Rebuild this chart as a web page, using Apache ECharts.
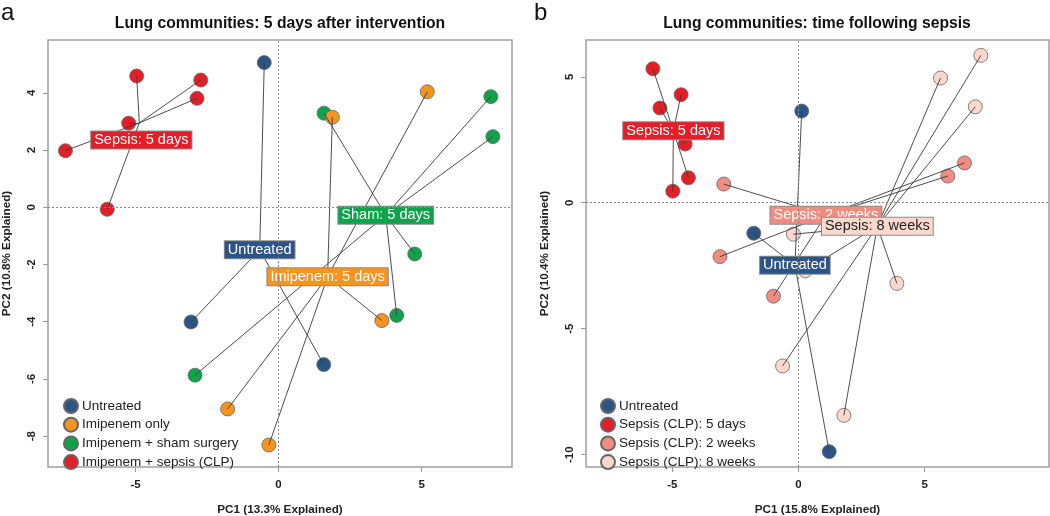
<!DOCTYPE html>
<html>
<head>
<meta charset="utf-8">
<script src="https://cdn.jsdelivr.net/npm/echarts@6/dist/echarts.min.js"></script>
<style>
  html, body { margin: 0; padding: 0; background: #fff; }
  #chart { width: 1050px; height: 516px; }
</style>
</head>
<body>
<div id="chart"></div>
<script>
// panel a: 5 days after intervention (PC1, PC2)
const aUntreated = [[-0.50, 5.06], [-3.06, -4.01], [1.58, -5.50]]
const aImipenem = [[1.88, 3.15], [5.20, 4.04], [3.61, -3.96], [-1.78, -7.05], [-0.34, -8.31]]
const aSham = [[1.59, 3.29], [7.42, 3.87], [7.49, 2.47], [4.76, -1.63], [4.13, -3.78], [-2.92, -5.87]]
const aSepsis = [[-4.96, 4.59], [-2.72, 4.45], [-2.85, 3.81], [-5.24, 2.94], [-7.45, 1.98], [-5.99, -0.07]]
const aLegend = ['Untreated', 'Imipenem only', 'Imipenem + sham surgery', 'Imipenem + sepsis (CLP)']
const aTags = ['Untreated', 'Imipenem: 5 days', 'Sham: 5 days', 'Sepsis: 5 days']

// panel b: time following sepsis
const bUntreated = [[0.13, 3.64], [-1.77, -1.21], [1.22, -9.88]]
const bSepsis5d = [[-5.77, 5.32], [-4.65, 4.29], [-5.49, 3.76], [-4.49, 2.33], [-4.36, 0.99], [-4.98, 0.46]]
const bSepsis2w = [[-2.96, 0.74], [6.58, 1.58], [5.92, 1.06], [-3.11, -2.14], [-0.99, -3.71]]
const bSepsis8w = [[7.23, 5.85], [5.63, 4.95], [7.01, 3.81], [-0.20, -1.25], [3.90, -3.20], [0.27, -2.70], [-0.63, -6.48], [1.80, -8.44]]
const bLegend = ['Untreated', 'Sepsis (CLP): 5 days', 'Sepsis (CLP): 2 weeks', 'Sepsis (CLP): 8 weeks']
const bTags = ['Untreated', 'Sepsis: 5 days', 'Sepsis: 2 weeks', 'Sepsis: 8 weeks']

// tick labels
const xTicks = [-5, 0, 5]
const aYTicks = [-8, -6, -4, -2, 0, 2, 4]
const bYTicks = [-10, -5, 0, 5]

const FONT = '"Liberation Sans", Arial, sans-serif'
const chart = echarts.init(document.getElementById('chart'))

function mean (pts) {
  let sx = 0
  let sy = 0
  pts.forEach(p => { sx += p[0]; sy += p[1] })
  return [sx / pts.length, sy / pts.length]
}

// one panel: points, spider lines to the group centroid, boxed group tags
function panel (idx, groups, names, tags, colors, tagText, tagOffset) {
  const out = []
  // dotted zero lines
  out.push({
    type: 'scatter', xAxisIndex: idx, yAxisIndex: idx, data: [], z: 1,
    markLine: {
      silent: true, symbol: ['none', 'none'], label: { show: false },
      lineStyle: { type: [2, 2], color: '#8a8a8a', width: 1 },
      data: [{ xAxis: 0 }, { yAxis: 0 }]
    }
  })
  groups.forEach((pts, i) => {
    out.push({
      name: names[i], type: 'scatter', xAxisIndex: idx, yAxisIndex: idx,
      data: pts, symbolSize: 14, z: 2,
      itemStyle: { color: colors[i], borderColor: '#666', borderWidth: 0.8, opacity: 1 }
    })
  })
  const segs = []
  groups.forEach(pts => {
    const c = mean(pts)
    pts.forEach(p => segs.push({ coords: [c, p] }))
  })
  out.push({
    type: 'lines', coordinateSystem: 'cartesian2d', xAxisIndex: idx, yAxisIndex: idx,
    data: segs, z: 3, silent: true,
    lineStyle: { color: '#3a3a3a', width: 0.9, opacity: 1 }
  })
  out.push({
    type: 'scatter', xAxisIndex: idx, yAxisIndex: idx, z: 4, silent: true,
    symbolSize: 1, itemStyle: { color: 'transparent', opacity: 1 },
    data: groups.map((pts, i) => ({
      value: mean(pts),
      name: tags[i],
      label: {
        backgroundColor: colors[i],
        color: tagText[i],
        offset: tagOffset[i]
      }
    })),
    label: {
      show: true, position: 'inside', formatter: '{b}',
      fontFamily: FONT, fontSize: 14.5, lineHeight: 16,
      borderColor: '#8c8c8c', borderWidth: 1, padding: [1, 3, 0, 3]
    }
  })
  return out
}

const aColors = ['#2C5487', '#F7941D', '#0FA34B', '#E41E26']
const bColors = ['#2C5487', '#E41E26', '#F08C80', '#FAD8CD']

function xAxis (idx, min, max, name) {
  return {
    gridIndex: idx, type: 'value', min: min, max: max,
    name: name, nameLocation: 'middle', nameGap: 37,
    nameTextStyle: { fontFamily: FONT, fontSize: 11.7, fontWeight: 'bold', color: '#222' },
    axisLine: { show: false, onZero: false },
    axisTick: { show: true, length: 5, customValues: xTicks, lineStyle: { color: '#999' } },
    axisLabel: { customValues: xTicks, margin: 12, fontFamily: FONT, fontSize: 11.5, fontWeight: 'bold', color: '#222' },
    splitLine: { show: false }
  }
}

function yAxis (idx, min, max, name, ticks) {
  return {
    gridIndex: idx, type: 'value', min: min, max: max,
    name: name, nameLocation: 'middle', nameGap: 35,
    nameTextStyle: { fontFamily: FONT, fontSize: 11.7, fontWeight: 'bold', color: '#222' },
    axisLine: { show: false, onZero: false },
    axisTick: { show: true, length: 5, customValues: ticks, lineStyle: { color: '#999' } },
    axisLabel: { customValues: ticks, rotate: 90, margin: 10, fontFamily: FONT, fontSize: 11.5, fontWeight: 'bold', color: '#222' },
    splitLine: { show: false }
  }
}

function legend (left, names) {
  return {
    data: names, left: left, top: 393, orient: 'vertical',
    icon: 'circle', itemWidth: 14, itemHeight: 14, itemGap: 2.7,
    selectedMode: false,
    textStyle: { fontFamily: FONT, fontSize: 13.5, color: '#222', padding: [0, 0, 0, -1] }
  }
}

const option = {
  backgroundColor: '#fff',
  animation: false,
  grid: [
    { left: 48, right: 538, top: 40, bottom: 49, outerBoundsMode: 'none', containLabel: false, show: true, borderColor: '#a0a0a0', borderWidth: 1.5, backgroundColor: 'transparent' },
    { left: 586, right: 1, top: 40, bottom: 49, outerBoundsMode: 'none', containLabel: false, show: true, borderColor: '#a0a0a0', borderWidth: 1.5, backgroundColor: 'transparent' }
  ],
  xAxis: [
    xAxis(0, -8.06, 8.16, 'PC1 (13.3% Explained)'),
    xAxis(1, -8.42, 9.93, 'PC1 (15.8% Explained)')
  ],
  yAxis: [
    yAxis(0, -9.08, 5.85, 'PC2 (10.8% Explained)', aYTicks),
    yAxis(1, -10.49, 6.46, 'PC2 (10.4% Explained)', bYTicks)
  ],
  legend: [legend(58, aLegend), legend(595, bLegend)],
  graphic: [
    { type: 'text', x: 280, y: 24, style: { text: 'Lung communities: 5 days after intervention', align: 'center', verticalAlign: 'middle', font: 'bold 15.7px ' + FONT, fill: '#111' } },
    { type: 'text', x: 817, y: 24, style: { text: 'Lung communities: time following sepsis', align: 'center', verticalAlign: 'middle', font: 'bold 15.7px ' + FONT, fill: '#111' } },
    { type: 'text', x: 1, y: 13, style: { text: 'a', verticalAlign: 'middle', font: '24px ' + FONT, fill: '#111' } },
    { type: 'text', x: 534, y: 13, style: { text: 'b', verticalAlign: 'middle', font: '24px ' + FONT, fill: '#111' } }
  ],
  series: [].concat(
    panel(0, [aUntreated, aImipenem, aSham, aSepsis], aLegend, aTags, aColors,
      ['#fff', '#fff', '#fff', '#fff'], [[0, 0], [0, 0], [0, 0], [2, 17]]),
    panel(1, [bUntreated, bSepsis5d, bSepsis2w, bSepsis8w], bLegend, bTags, bColors,
      ['#fff', '#fff', '#fff', '#222'], [[0, 0], [0, 0], [0, 0], [0, 0]])
  )
}

// orange sits above green in panel a
const s = option.series
const tmp = s[2]; s[2] = s[3]; s[3] = tmp

chart.setOption(option)
</script>
</body>
</html>
